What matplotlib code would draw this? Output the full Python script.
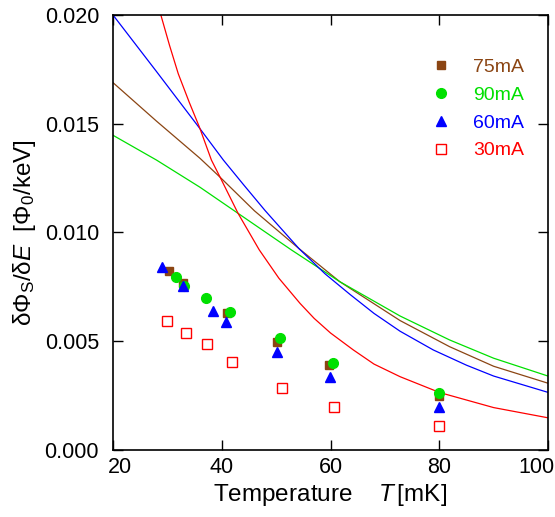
import numpy as np
import matplotlib.pyplot as plt
import matplotlib.transforms as mtransforms

plt.rcParams['font.family'] = ['Liberation Sans', 'DejaVu Sans']
plt.rcParams['mathtext.fontset'] = 'custom'
plt.rcParams['mathtext.rm'] = 'Liberation Sans'
plt.rcParams['mathtext.it'] = 'Liberation Sans:italic'

# measured points
T_75 = [30.3, 32.8, 40.9, 50.1, 59.8, 79.9]
y_75 = [0.00824, 0.00766, 0.00631, 0.00498, 0.00392, 0.00248]
T_90 = [31.6, 33.0, 37.1, 41.5, 50.7, 60.5, 79.9]
y_90 = [0.00795, 0.00755, 0.00700, 0.00634, 0.00516, 0.00400, 0.00264]
T_60 = [29.0, 32.8, 38.3, 40.8, 50.1, 59.9, 79.9]
y_60 = [0.00843, 0.00754, 0.00639, 0.00587, 0.00452, 0.00337, 0.00198]
T_30 = [30.0, 33.4, 37.3, 41.8, 51.0, 60.6, 80.0]
y_30 = [0.00592, 0.00539, 0.00489, 0.00403, 0.00285, 0.00199, 0.00112]

# model curves
cT_75 = [20, 28, 36.0, 39.7, 46, 54.2, 61.7, 72.8, 81.9, 90, 100]
cy_75 = [0.01689, 0.01512, 0.01341, 0.01254, 0.01100, 0.00926, 0.00774, 0.00595, 0.00475, 0.00385, 0.00307]
cT_90 = [20, 28.0, 36, 43.0, 52.8, 61.7, 72.8, 81.9, 90, 100]
cy_90 = [0.01447, 0.01333, 0.01208, 0.01088, 0.00920, 0.00774, 0.00616, 0.00506, 0.00422, 0.00340]
cT_60 = [20, 28, 35.7, 40.3, 44, 48, 54.2, 59, 63.6, 68, 72.8, 78.9, 85, 90, 100]
cy_60 = [0.02000, 0.01740, 0.01487, 0.01333, 0.01220, 0.01100, 0.00926, 0.00810, 0.00715, 0.00628, 0.00546, 0.00460, 0.00390, 0.00340, 0.00265]
cT_30 = [28.8, 30.4, 32.0, 34.0, 35.9, 38.1, 39.7, 43.0, 46.9, 50.5, 54.4, 57.0, 60.0, 64.2, 68.0, 72.8, 80.1, 90, 100]
cy_30 = [0.02000, 0.01860, 0.01730, 0.01600, 0.01484, 0.01333, 0.01254, 0.01088, 0.00920, 0.00790, 0.00674, 0.00605, 0.00538, 0.00460, 0.00395, 0.00337, 0.00264, 0.00195, 0.00148]

c_75 = '#8b4513'
c_90 = '#00e000'
c_60 = '#0000ff'
c_30 = '#ff0000'

fig = plt.figure(figsize=(5.55, 5.17), dpi=100)
ax = fig.add_axes([0.2036, 0.1296, 0.7838, 0.8414])

ax.plot(cT_75, cy_75, color=c_75, lw=0.9)
ax.plot(cT_90, cy_90, color=c_90, lw=0.9)
ax.plot(cT_60, cy_60, color=c_60, lw=0.9)
ax.plot(cT_30, cy_30, color=c_30, lw=0.9)

ax.plot(T_75, y_75, 's', color=c_75, ms=6, ls='none', label='75mA')
ax.plot(T_90, y_90, 'o', color=c_90, ms=7, ls='none', label='90mA')
ax.plot(T_60, y_60, '^', color=c_60, ms=7.5, ls='none', label='60mA')
ax.plot(T_30, y_30, 's', mfc='white', mec=c_30, mew=1.0, ms=7.5, ls='none', label='30mA')

ax.set_xlim(20, 100)
ax.set_ylim(0, 0.02)
ax.set_xticks([20, 40, 60, 80, 100])
ax.set_yticks([0.0, 0.005, 0.010, 0.015, 0.020])
ax.set_yticklabels(['0.000', '0.005', '0.010', '0.015', '0.020'])
ax.tick_params(direction='in', length=7, width=1, top=True, right=True, labelsize=15.5)
ax.tick_params(axis='x', pad=5)
ax.tick_params(axis='y', pad=10)
for s in ax.spines.values():
    s.set_linewidth(1.2)

# first and last x labels sit a bit inward
xl = ax.get_xticklabels()
xl[0].set_transform(xl[0].get_transform() + mtransforms.ScaledTranslation(0.065, 0, fig.dpi_scale_trans))
xl[-1].set_transform(xl[-1].get_transform() + mtransforms.ScaledTranslation(-0.115, 0, fig.dpi_scale_trans))

ax.set_xlabel(r'Temperature    $T\,$[mK]', fontsize=17.5, labelpad=3)
ax.set_ylabel('δΦ$_{\\rm S}$/δ$E$  [Φ$_0$/keV]', fontsize=17.5, labelpad=5)

leg = ax.legend(loc='upper right', bbox_to_anchor=(0.985, 0.94), frameon=False, fontsize=14,
                handletextpad=1.15, labelspacing=0.52, handlelength=1.0,
                labelcolor=[c_75, c_90, c_60, c_30])

fig.savefig('out.png', dpi=100)
